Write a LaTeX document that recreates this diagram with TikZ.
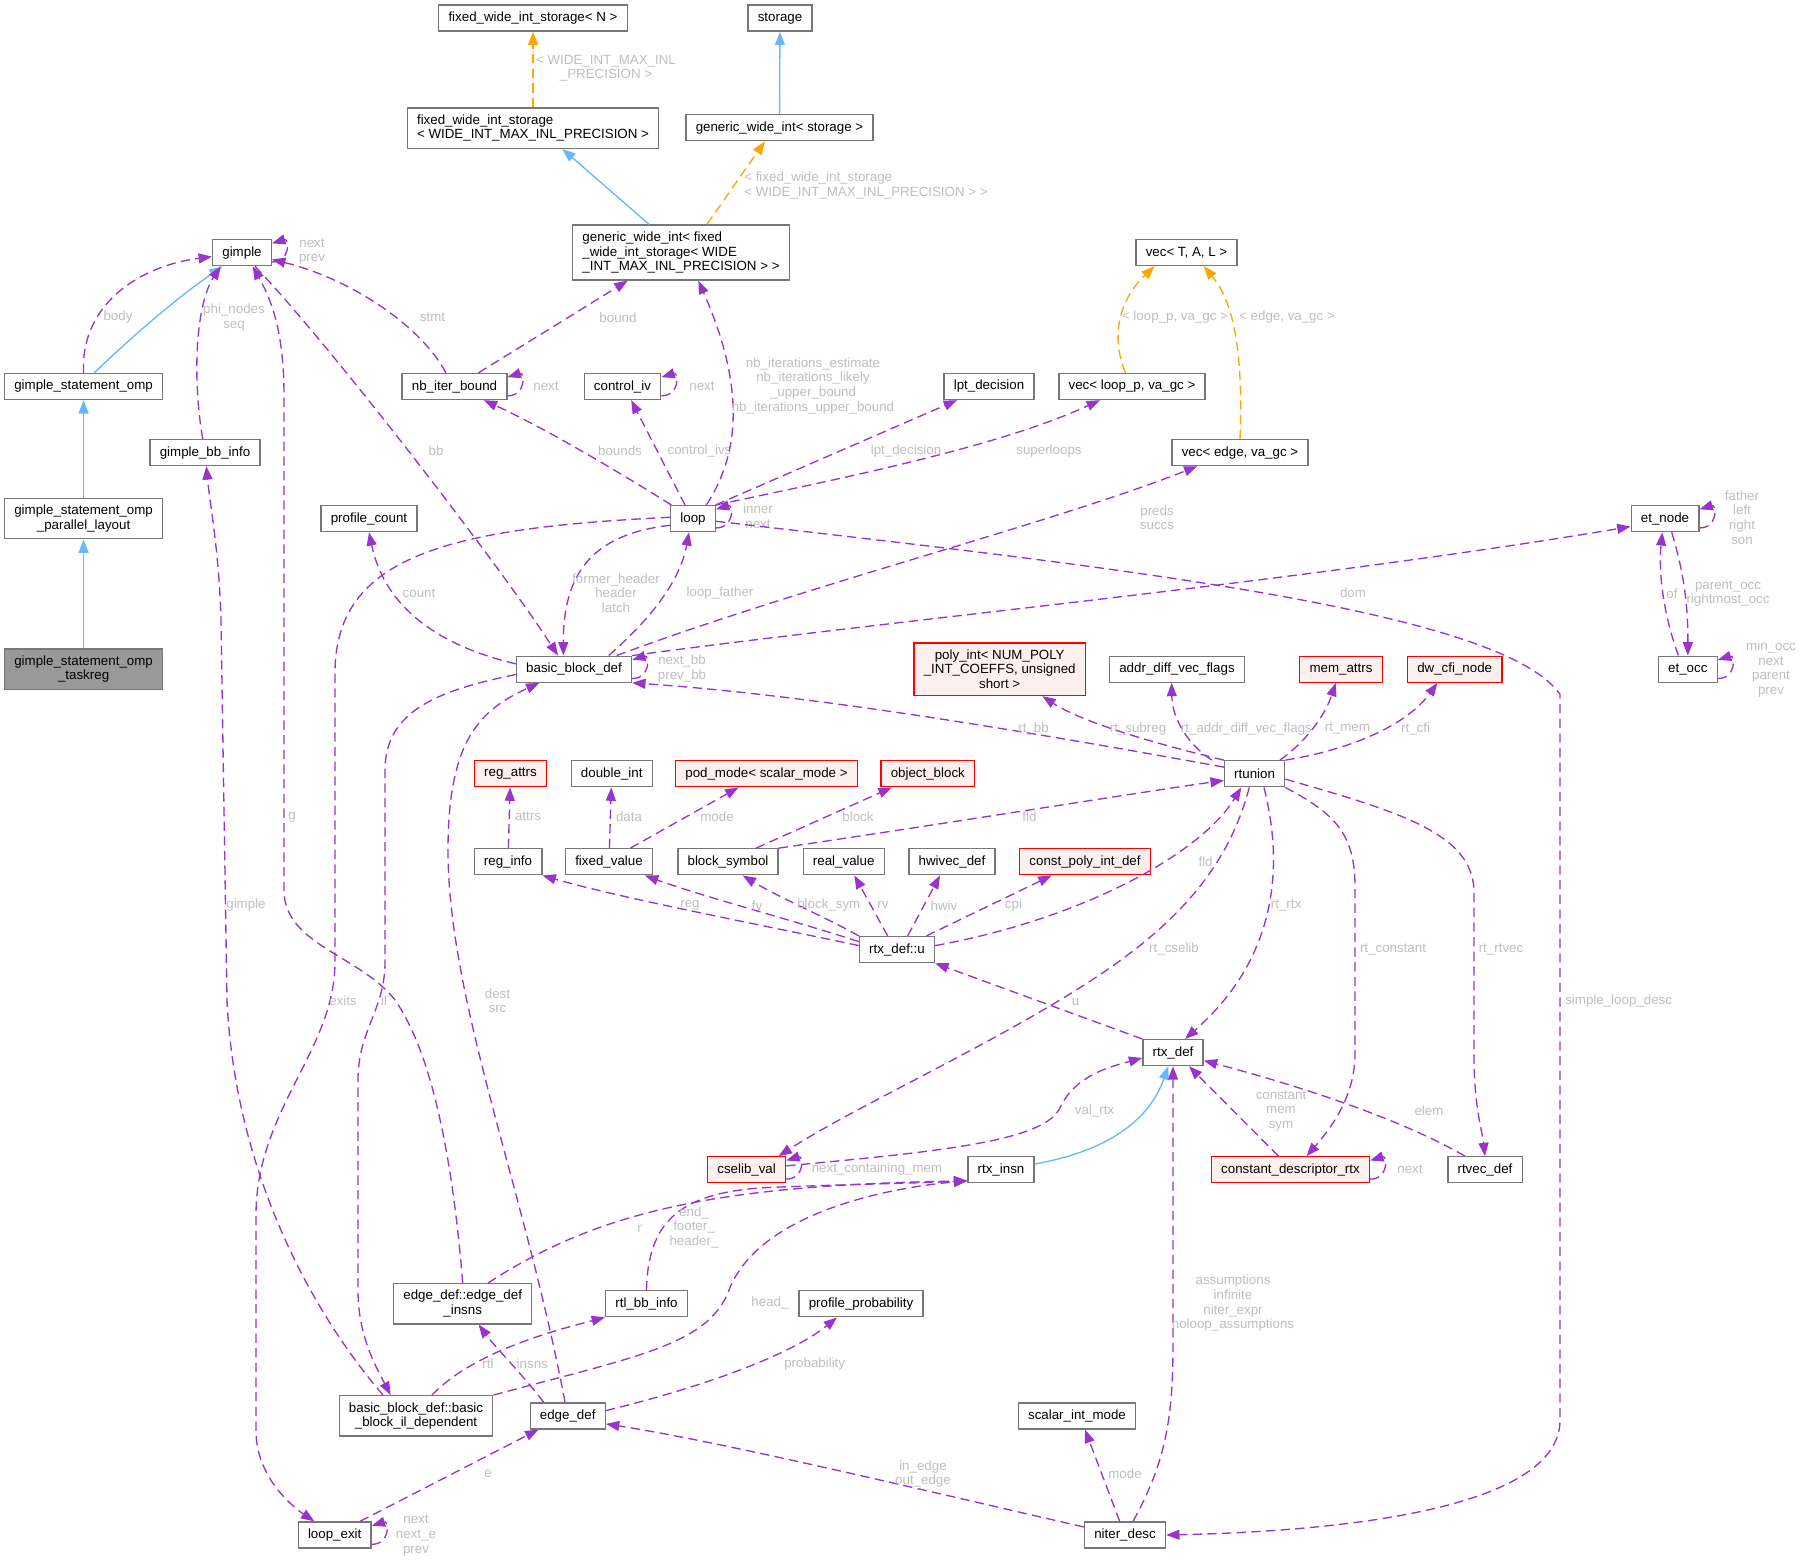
\documentclass[tikz,border=0pt]{standalone}
\usepackage{fontspec}
\setmainfont{Liberation Sans}
\usetikzlibrary{arrows.meta}
\definecolor{edgepurple}{HTML}{9A32CD}
\definecolor{edgeblue}{HTML}{63B8FF}
\definecolor{edgeorange}{HTML}{FFA500}
\definecolor{boxgray}{HTML}{777777}
\definecolor{lblgray}{HTML}{BEBEBE}
\definecolor{redfill}{HTML}{FFF0F0}
\definecolor{hlfill}{HTML}{999999}
\tikzset{
	cls/.style={draw=boxgray, fill=white, line width=1pt, inner xsep=7.3pt, inner ysep=5pt, minimum height=19.5pt, align=center, font=\fontsize{10}{11}\selectfont},
	trunc/.style={cls, draw=red, fill=redfill},
	focus/.style={cls, fill=hlfill},
	lbl/.style={text=lblgray, align=center, inner sep=0pt, font=\fontsize{10}{11}\selectfont},
	usage/.style={draw=edgepurple, line width=1pt, dash pattern=on 7pt off 4pt, -{Triangle[length=10pt,width=7.5pt]}},
	inherit/.style={draw=edgeblue, line width=1pt, -{Triangle[length=10pt,width=7.5pt]}},
	templ/.style={draw=edgeorange, line width=1pt, dash pattern=on 7pt off 4pt, -{Triangle[length=10pt,width=7.5pt]}}
}
\def\selfloop[#1](#2){\draw[#1] ([yshift=-7pt]#2.east) .. controls +(14pt,0pt) and +(13pt,4pt) .. ([yshift=7pt]#2.east);}

\begin{document}
\begin{tikzpicture}[x=0.75pt,y=-0.75pt]
		%%%%% START %%%%%
		\useasboundingbox (0,0) rectangle (1801,1563);
		
		\node[cls] (fwsN) at (533,18.1) {fixed\_wide\_int\_storage< N >};
		\node[cls, align=left] (fwsMax) at (533,128.1) {fixed\_wide\_int\_storage\\< WIDE\_INT\_MAX\_INL\_PRECISION >};
		\node[cls] (storage) at (780,18.1) {storage};
		\node[cls] (gwiStorage) at (779.5,127.8) {generic\_wide\_int< storage >};
		\node[cls, align=left] (gwiFixed) at (681,252.5) {generic\_wide\_int< fixed\\\_wide\_int\_storage< WIDE\\\_INT\_MAX\_INL\_PRECISION > >};
		\node[cls] (gimple) at (242,252.7) {gimple};
		\node[cls] (vecTAL) at (1186.5,252.5) {vec< T, A, L >};
		
		\node[cls] (gsOmp) at (83.6,386.5) {gimple\_statement\_omp};
		\node[cls] (nbIter) at (454.5,386.5) {nb\_iter\_bound};
		\node[cls] (controlIv) at (622.5,386.5) {control\_iv};
		\node[cls] (lptDecision) at (989,386.5) {lpt\_decision};
		\node[cls] (vecLoop) at (1132,386.5) {vec< loop\_p, va\_gc >};
		\node[cls] (gbbInfo) at (205,452.6) {gimple\_bb\_info};
		\node[cls] (vecEdge) at (1240,452.6) {vec< edge, va\_gc >};
		
		\node[cls] (gsParallel) at (83.6,518.6) {gimple\_statement\_omp\\\_parallel\_layout};
		\node[focus] (gsTaskreg) at (83.6,669.2) {gimple\_statement\_omp\\\_taskreg};
		\node[cls] (profileCount) at (369,518.6) {profile\_count};
		\node[cls] (loop) at (693,518.6) {loop};
		\node[cls] (etNode) at (1665,518.6) {et\_node};
		
		\node[cls] (bbDef) at (574,669.2) {basic\_block\_def};
		\node[trunc] (polyInt) at (999.7,669.2) {poly\_int< NUM\_POLY\\\_INT\_COEFFS, unsigned\\short >};
		\node[cls] (addrDiff) at (1177,669.2) {addr\_diff\_vec\_flags};
		\node[trunc] (memAttrs) at (1341,669.2) {mem\_attrs};
		\node[trunc] (dwCfi) at (1454.7,669.2) {dw\_cfi\_node};
		\node[cls] (etOcc) at (1687.8,669.2) {et\_occ};
		
		\node[trunc] (regAttrs) at (510.5,773.8) {reg\_attrs};
		\node[cls] (doubleInt) at (611.7,773.8) {double\_int};
		\node[trunc] (podMode) at (766.5,773.8) {pod\_mode< scalar\_mode >};
		\node[trunc] (objectBlock) at (927.8,773.8) {object\_block};
		\node[cls] (rtunion) at (1254.6,773.8) {rtunion};
		
		\node[cls] (regInfo) at (508,861.8) {reg\_info};
		\node[cls] (fixedValue) at (609,861.8) {fixed\_value};
		\node[cls] (blockSymbol) at (728,861.8) {block\_symbol};
		\node[cls] (realValue) at (843.7,861.8) {real\_value};
		\node[cls] (hwivecDef) at (952,861.8) {hwivec\_def};
		\node[trunc] (constPoly) at (1085,861.8) {const\_poly\_int\_def};
		\node[cls] (rtxU) at (897,949.6) {rtx\_def::u};
		
		\node[cls] (rtxDef) at (1173,1052.6) {rtx\_def};
		\node[trunc] (cselibVal) at (746.6,1169.8) {cselib\_val};
		\node[cls] (rtxInsn) at (1001,1169.8) {rtx\_insn};
		\node[trunc] (cdRtx) at (1290.5,1169.8) {constant\_descriptor\_rtx};
		\node[cls] (rtvecDef) at (1485,1169.8) {rtvec\_def};
		
		\node[cls] (edInsns) at (462.7,1303.8) {edge\_def::edge\_def\\\_insns};
		\node[cls] (rtlBbInfo) at (646.5,1303.8) {rtl\_bb\_info};
		\node[cls] (profileProb) at (861,1303.8) {profile\_probability};
		\node[cls] (bbIl) at (416,1415.9) {basic\_block\_def::basic\\\_block\_il\_dependent};
		\node[cls] (edgeDef) at (567.7,1415.9) {edge\_def};
		\node[cls] (scalarIntMode) at (1077,1415.9) {scalar\_int\_mode};
		\node[cls] (loopExit) at (334.7,1535) {loop\_exit};
		\node[cls] (niterDesc) at (1125,1535) {niter\_desc};
		
		% inheritance
		\draw[inherit] (gsParallel) -- (gsOmp);
		\draw[inherit] (gsTaskreg) -- (gsParallel);
		\draw[inherit] ([xshift=8pt]gsOmp.north) .. controls (150,319.4) and (190,289) .. (gimple);
		\draw[inherit] ([xshift=-24pt]gwiFixed.north) -- ([xshift=22pt]fwsMax.south);
		\draw[inherit] (gwiStorage) -- (storage);
		\draw[inherit] (rtxInsn) .. controls (1110,1150.8) and (1150,1118.5) .. (rtxDef);
		
		% templates
		\draw[templ] (fwsMax) -- (fwsN);
		\node[lbl] (lwide) at (606,68.4) {< WIDE\_INT\_MAX\_INL\\\_PRECISION >};
		\draw[templ] ([xshift=19.5pt]gwiFixed.north) -- ([xshift=-11pt]gwiStorage.south);
		\node[lbl, align=left, anchor=west] (lfixed) at (744,185.6) {< fixed\_wide\_int\_storage\\< WIDE\_INT\_MAX\_INL\_PRECISION > >};
		\draw[templ] ([xshift=-5pt]vecLoop.north) .. controls (1110,334.6) and (1120,299) .. ([xshift=-24pt]vecTAL.south);
		\node[lbl] (lloopp) at (1175,317.4) {< loop\_p, va\_gc >};
		\draw[templ] (vecEdge.north) .. controls (1243,355) and (1235,304) .. ([xshift=13pt]vecTAL.south);
		\node[lbl] (ledge) at (1287,317.4) {< edge, va\_gc >};
		
		% gimple
		\selfloop[usage](gimple)
		\node[lbl] (lgnext) at (312,251.5) {next\\prev};
		\draw[usage] (gsOmp.north) .. controls (80,304.2) and (140,265.7) .. ([yshift=-3pt]gimple.west);
		\node[lbl] (lbody) at (118,317.4) {body};
		\draw[usage] (gbbInfo) .. controls (192,375.2) and (196,304.2) .. ([xshift=-16pt]gimple.south);
		\node[lbl] (lphi) at (234,317.4) {phi\_nodes\\seq};
		\draw[usage] (edInsns.north) .. controls (452,1150) and (430,1050) .. (395,1000) .. controls (360,955) and (284,945) .. (284,890) -- (284,395) .. controls (284,325) and (268,294) .. ([xshift=8pt]gimple.south);
		\node[lbl] (lg) at (292,817.5) {g};
		\draw[usage] ([xshift=-24.75pt]bbIl.north) .. controls (310,1310) and (235,1170) .. (227,1000) -- (221,620) .. controls (219,550) and (210,505) .. (gbbInfo);
		\node[lbl] (lgimple) at (246,905.3) {gimple};
		\draw[usage] (gimple) .. controls (330,344.8) and (500,566) .. ([xshift=-12pt]bbDef.north);
		\node[lbl] (lbb) at (436,451.2) {bb};
		
		% nb_iter_bound, loop
		\draw[usage] ([xshift=-6.4pt]nbIter.north) .. controls (420,324.5) and (350,278.9) .. ([yshift=-5pt]gimple.east);
		\node[lbl] (lstmt) at (432.5,317.4) {stmt};
		\draw[usage] ([xshift=18pt]nbIter.north) -- ([xshift=-40pt]gwiFixed.south);
		\node[lbl] (lbound) at (618,317.4) {bound};
		\selfloop[usage](nbIter)
		\node[lbl] (lnbnext) at (546,386.5) {next};
		\draw[usage] (loop) .. controls (610,466.4) and (540,425.9) .. ([xshift=22pt]nbIter.south);
		\node[lbl] (lbounds) at (620,451.2) {bounds};
		\draw[usage] ([xshift=-6pt]loop.north) -- ([xshift=6.5pt]controlIv.south);
		\node[lbl] (lcivs) at (699.5,451.2) {control\_ivs};
		\selfloop[usage](controlIv)
		\node[lbl] (lcinext) at (702,386.5) {next};
		\draw[usage] ([xshift=10pt]loop.north) .. controls (745,446.2) and (740,375.2) .. ([xshift=13pt]gwiFixed.south);
		\node[lbl] (lnbit) at (813,385.8) {nb\_iterations\_estimate\\nb\_iterations\_likely\\\_upper\_bound\\nb\_iterations\_upper\_bound};
		\draw[usage] ([xshift=17pt]loop.north) -- ([xshift=-24pt]lptDecision.south);
		\node[lbl] (llpt) at (906,451.2) {lpt\_decision};
		\draw[usage] (loop.north east) .. controls (850,476.6) and (1000,446.2) .. ([xshift=-24pt]vecLoop.south);
		\node[lbl] (lsuper) at (1049,451.2) {superloops};
		\selfloop[usage](loop)
		\node[lbl] (linner) at (758,516.4) {inner\\next};
		\draw[usage] ([yshift=-5pt]loop.west) .. controls (600,533.6) and (563,565.7) .. ([xshift=-8pt]bbDef.north);
		\node[lbl] (lheader) at (616,593) {former\_header\\header\\latch};
		\draw[usage] ([yshift=-2pt]loop.east) .. controls (1100,565.7) and (1500,608.6) .. (1560,694.3) -- (1560,1420) .. controls (1560,1517) and (1300,1532) .. (niterDesc.east);
		\node[lbl, anchor=west] (lsimple) at (1565,1000.7) {simple\_loop\_desc};
		\draw[usage] ([yshift=1pt]loop.west) .. controls (450,528) and (335,555) .. (335,673) -- (335,962) .. controls (335,1050) and (256,1110) .. (256,1215) -- (256,1431) .. controls (256,1475) and (290,1505) .. (loopExit);
		\node[lbl] (lexits) at (343,1000.7) {exits};
		
		% basic_block_def
		\draw[usage] ([xshift=26pt]bbDef.north) .. controls (650,619.3) and (680,581.8) .. ([xshift=-3pt]loop.south);
		\node[lbl] (lfather) at (720,593) {loop\_father};
		\draw[usage] ([yshift=4pt]bbDef.west) .. controls (440,646) and (385,608.6) .. (profileCount.south);
		\node[lbl] (lcount) at (419,593) {count};
		\selfloop[usage](bbDef)
		\node[lbl] (lnextbb) at (682,668.6) {next\_bb\\prev\_bb};
		\draw[usage] ([xshift=32pt]bbDef.north) .. controls (800,587.1) and (1050,524) .. ([xshift=-32pt]vecEdge.south);
		\node[lbl] (lpreds) at (1157,517.7) {preds\\succs};
		\draw[usage] (bbDef.north east) .. controls (900,619.3) and (1300,581.8) .. ([yshift=-6pt]etNode.west);
		\node[lbl] (ldom) at (1353,593) {dom};
		\draw[usage] ([yshift=-4pt]bbDef.west) .. controls (440,690) and (385,710) .. (385,770) -- (385,962) .. controls (385,1010) and (358,1030) .. (358,1080) -- (358,1290) .. controls (358,1335) and (375,1365) .. ([xshift=-19pt]bbIl.north);
		\node[lbl] (lil) at (384,1000.7) {il};
		\draw[usage] ([xshift=-2pt]edgeDef.north) .. controls (525,1190) and (448,1000) .. (448,850) .. controls (448,740) and (480,710) .. ([xshift=-26pt]bbDef.south);
		\node[lbl] (ldest) at (497.5,1000.7) {dest\\src};
		
		% et
		\selfloop[usage](etNode)
		\node[lbl] (lfath) at (1742,517.5) {father\\left\\right\\son};
		\draw[usage] ([xshift=-7pt]etOcc.north) .. controls (1665,619.3) and (1658,576.4) .. ([xshift=-2pt]etNode.south);
		\node[lbl] (lof) at (1672,593.6) {of};
		\draw[usage] ([xshift=5pt]etNode.south) .. controls (1685,576.4) and (1688,608.6) .. (etOcc.north);
		\node[lbl] (locc) at (1728,593.6) {parent\_occ\\rightmost\_occ};
		\selfloop[usage](etOcc)
		\node[lbl] (lminocc) at (1771,669.1) {min\_occ\\next\\parent\\prev};
		
		% rtunion
		\draw[usage] ([yshift=5pt]rtunion.west) .. controls (1000,726.4) and (800,694.3) .. (bbDef.south east);
		\node[lbl] (lrtbb) at (1033.6,728.6) {rt\_bb};
		\draw[usage] (rtunion.north west) .. controls (1150,742.5) and (1080,721.1) .. ([xshift=32pt]polyInt.south);
		\node[lbl] (lsubreg) at (1138,728.6) {rt\_subreg};
		\draw[usage] ([xshift=-32pt]rtunion.north) .. controls (1185,742.5) and (1172,715.7) .. ([xshift=-4pt]addrDiff.south);
		\node[lbl] (laddr) at (1246.4,728.6) {rt\_addr\_diff\_vec\_flags};
		\draw[usage] ([xshift=19pt]rtunion.north) .. controls (1305,742.5) and (1325,715.7) .. ([xshift=-4pt]memAttrs.south);
		\node[lbl] (lmem) at (1347.4,728.6) {rt\_mem};
		\draw[usage] (rtunion.north east) .. controls (1360,747.9) and (1410,721.1) .. ([xshift=-13pt]dwCfi.south);
		\node[lbl] (lcfi) at (1415.6,728.6) {rt\_cfi};
		\draw[usage] ([xshift=-4pt]rtunion.south) .. controls (1225,880) and (1160,940) .. (1060,1000) .. controls (960,1060) and (850,1110) .. ([xshift=24pt]cselibVal.north);
		\node[lbl] (lcselib) at (1174,949.3) {rt\_cselib};
		\draw[usage] ([xshift=7pt]rtunion.south) .. controls (1285,870) and (1275,960) .. ([xshift=9pt]rtxDef.north);
		\node[lbl] (lrtx) at (1286,905.3) {rt\_rtx};
		\draw[usage] (rtunion.south east) .. controls (1335,813.8) and (1355,833.6) .. (1355,887.1) -- (1355,1053.9) .. controls (1355,1097) and (1330,1129.3) .. ([xshift=12pt]cdRtx.north);
		\node[lbl] (lconst) at (1393,949.3) {rt\_constant};
		\draw[usage] ([yshift=-4pt]rtunion.east) .. controls (1400,812) and (1474,833.6) .. (1474,892.5) -- (1474,1053.9) .. controls (1474,1107.7) and (1482,1129.3) .. (rtvecDef.north);
		\node[lbl] (lrtvec) at (1501,949.3) {rt\_rtvec};
		
		% small structs
		\draw[usage] (regInfo) -- (regAttrs);
		\node[lbl] (lattrs) at (528,816.4) {attrs};
		\draw[usage] (fixedValue) -- (doubleInt);
		\node[lbl] (ldata) at (629,816.4) {data};
		\draw[usage] ([xshift=16pt]fixedValue.north) -- ([xshift=-21pt]podMode.south);
		\node[lbl] (lmode) at (717,816.4) {mode};
		\draw[usage] ([xshift=21pt]blockSymbol.north) -- ([xshift=-27pt]objectBlock.south);
		\node[lbl] (lblock) at (858,816.4) {block};
		\draw[usage] (blockSymbol.north east) .. controls (950,822.9) and (1150,790.7) .. ([yshift=-5pt]rtunion.west);
		\node[lbl] (lfld) at (1029.4,816.4) {fld};
		
		% rtx_def::u
		\draw[usage] ([yshift=3pt]rtxU.west) .. controls (760,924.6) and (620,897.9) .. (regInfo.south east);
		\node[lbl] (lreg) at (690,905.3) {reg};
		\draw[usage] ([yshift=6pt]rtxU.west) .. controls (790,919.3) and (700,895.7) .. ([xshift=27pt]fixedValue.south);
		\node[lbl] (lfv) at (757,905.3) {fv};
		\draw[usage] (rtxU.north west) .. controls (830,919.3) and (780,897.9) .. ([xshift=11pt]blockSymbol.south);
		\node[lbl] (lbsym) at (828.8,905.3) {block\_sym};
		\draw[usage] ([xshift=-7pt]rtxU.north) -- ([xshift=8pt]realValue.south);
		\node[lbl] (lrv) at (883,905.3) {rv};
		\draw[usage] ([xshift=8pt]rtxU.north) -- ([xshift=-9pt]hwivecDef.south);
		\node[lbl] (lhwiv) at (944,905.3) {hwiv};
		\draw[usage] ([xshift=22pt]rtxU.north) -- ([xshift=-25pt]constPoly.south);
		\node[lbl] (lcpi) at (1013.5,905.3) {cpi};
		\draw[usage] ([yshift=3pt]rtxU.east) .. controls (1080,919.3) and (1200,855) .. ([xshift=-10pt]rtunion.south);
		\node[lbl] (lfld2) at (1205.6,861.4) {fld};
		
		% rtx_def
		\draw[usage] (rtxDef.north west) -- (rtxU.south east);
		\node[lbl] (lu) at (1075.6,1001.8) {u};
		\draw[usage] ([yshift=3pt]cselibVal.east) .. controls (950,1150.8) and (1045,1140) .. (1060,1107.7) .. controls (1075,1075.4) and (1110,1066.8) .. ([yshift=-4pt]rtxDef.west);
		\node[lbl] (lvalrtx) at (1094.6,1111) {val\_rtx};
		\selfloop[usage](cselibVal)
		\node[lbl] (lcontain) at (877,1169.1) {next\_containing\_mem};
		\draw[usage] ([xshift=-9pt]cdRtx.north) -- ([xshift=12pt]rtxDef.south);
		\node[lbl] (lcms) at (1281,1111) {constant\\mem\\sym};
		\selfloop[usage](cdRtx)
		\node[lbl] (lcdnext) at (1410,1169.1) {next};
		\draw[usage] ([xshift=-15pt]rtvecDef.north) .. controls (1400,1118.5) and (1300,1086.2) .. ([yshift=-6pt]rtxDef.east);
		\node[lbl] (lelem) at (1429,1111) {elem};
		
		% rtx_insn users
		\draw[usage] ([xshift=19pt]edInsns.north) .. controls (600,1210) and (720,1185.3) .. ([yshift=2pt]rtxInsn.south west);
		\node[lbl] (lr) at (639.5,1228.4) {r};
		\draw[usage] (rtlBbInfo.north) .. controls (648,1220.8) and (680,1191.7) .. (770,1187.4) .. controls (850,1184.2) and (920,1183.1) .. ([yshift=2pt]rtxInsn.south west);
		\node[lbl] (lend) at (694,1227.3) {end\_\\footer\_\\header\_};
		\draw[usage] (bbIl.north east) .. controls (640,1355.5) and (710,1344.7) .. (730,1287.6) .. controls (760,1215.4) and (880,1188.5) .. ([yshift=2pt]rtxInsn.south west);
		\node[lbl] (lhead) at (770,1302.7) {head\_};
		\draw[usage] ([xshift=12pt]bbIl.north) .. controls (470,1355.5) and (540,1334) .. (rtlBbInfo.south west);
		\node[lbl] (lrtl) at (488,1364.1) {rtl};
		
		% edge_def, loop_exit, niter_desc
		\draw[usage] ([xshift=-18pt]edgeDef.north) .. controls (520,1371.6) and (495,1346.9) .. ([xshift=12pt]edInsns.south);
		\node[lbl] (linsns) at (532.3,1364.1) {insns};
		\draw[usage] ([yshift=4pt]edgeDef.east) .. controls (700,1387.8) and (790,1355.5) .. ([xshift=-18pt]profileProb.south);
		\node[lbl] (lprob) at (814.7,1364.1) {probability};
		\draw[usage] ([xshift=19pt]loopExit.north) -- ([xshift=-22pt]edgeDef.south);
		\node[lbl] (le) at (488,1474) {e};
		\selfloop[usage](loopExit)
		\node[lbl] (lexnext) at (416,1535.4) {next\\next\_e\\prev};
		\draw[usage] ([yshift=6pt]niterDesc.west) .. controls (900,1484.7) and (720,1441.7) .. ([yshift=-6pt]edgeDef.east);
		\node[lbl] (linedge) at (923,1474) {in\_edge\\out\_edge};
		\draw[usage] ([xshift=-4pt]niterDesc.north) -- ([xshift=6pt]scalarIntMode.south);
		\node[lbl] (lmode2) at (1125,1474) {mode};
		\draw[usage] ([xshift=6pt]niterDesc.north) .. controls (1165,1463.2) and (1173,1420) .. (1173,1344.7) -- (rtxDef.south);
		\node[lbl] (lassum) at (1233,1303.2) {assumptions\\infinite\\niter\_expr\\noloop\_assumptions};
		%%%%% END %%%%%
	\end{tikzpicture}
\end{document}
